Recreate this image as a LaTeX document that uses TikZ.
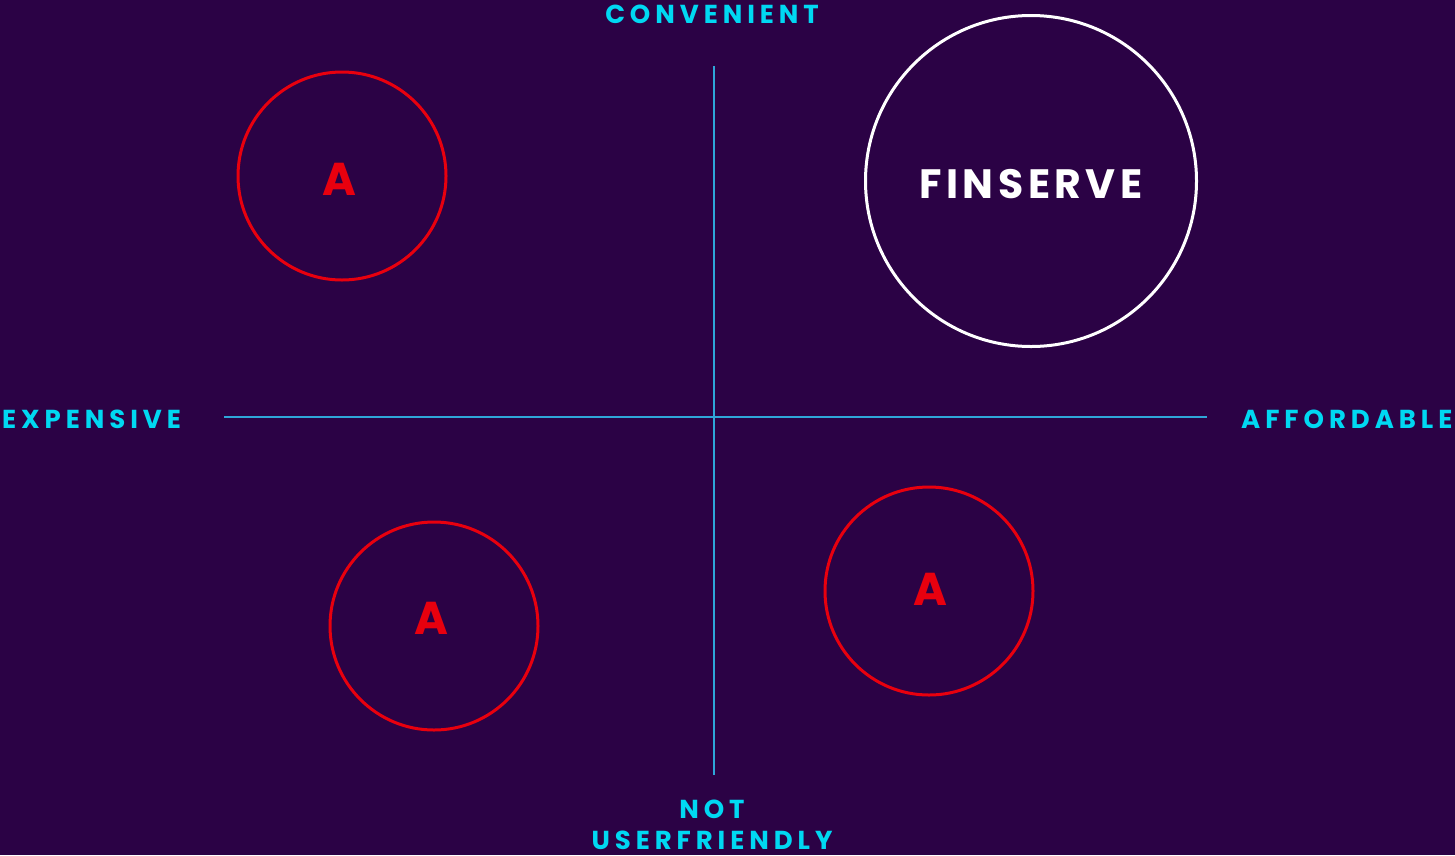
\documentclass[tikz,border=0pt]{standalone}
\usepackage{fontspec}
\setmainfont{Poppins}
\newfontfamily\axisfont[LetterSpace=19]{Poppins}
\newfontfamily\titlefont[LetterSpace=11]{Poppins}
\definecolor{bgpurple}{HTML}{2B0245}
\definecolor{axcyan}{HTML}{00D8F2}
\definecolor{axline}{HTML}{2FA6D8}
\definecolor{ringred}{HTML}{E8000E}
\tikzset{
  axislabel/.style={text=axcyan, inner sep=0pt, font=\axisfont\bfseries\fontsize{26}{31}\selectfont, align=center},
  axisline/.style={draw=axline, line width=1.4pt},
  redring/.style={circle, draw=ringred, line width=3pt, minimum size=208pt, inner sep=0pt},
  whitering/.style={circle, draw=white, line width=3pt, minimum size=331pt, inner sep=0pt},
  redletter/.style={text=ringred, inner sep=0pt, font=\bfseries\fontsize{46}{50}\selectfont},
  titletext/.style={text=white, inner sep=0pt, font=\titlefont\bfseries\fontsize{41}{46}\selectfont}
}
\begin{document}
\begin{tikzpicture}[x=1pt,y=-1pt]
\fill[bgpurple] (0,0) rectangle (1455,855);
\useasboundingbox (0,0) rectangle (1455,855);
% axes
\coordinate (vtop) at (714,66);
\coordinate (vbot) at (714,775);
\coordinate (hleft) at (224,417);
\coordinate (hright) at (1207,417);
\draw[axisline] (vtop) -- (vbot);
\draw[axisline] (hleft) -- (hright);
% axis labels
\node[axislabel] (conv) at (712,14) {CONVENIENT};
\node[axislabel, anchor=west] (exp) at (2,419.5) {EXPENSIVE};
\node[axislabel, anchor=west] (aff) at (1241,419.5) {AFFORDABLE};
\node[axislabel, anchor=north] (notuf) at (712,800) {NOT\\USERFRIENDLY};
% circles
\node[redring] (c1) at (342,176) {};
\node[redring] (c2) at (434,626) {};
\node[redring] (c3) at (929,591) {};
\node[whitering] (c4) at (1031,181) {};
% labels
\node[redletter] (a1) at (339,179) {A};
\node[redletter] (a2) at (431,618) {A};
\node[redletter] (a3) at (930,589) {A};
\node[titletext] (fin) at (1031,184) {FINSERVE};
\end{tikzpicture}
\end{document}
